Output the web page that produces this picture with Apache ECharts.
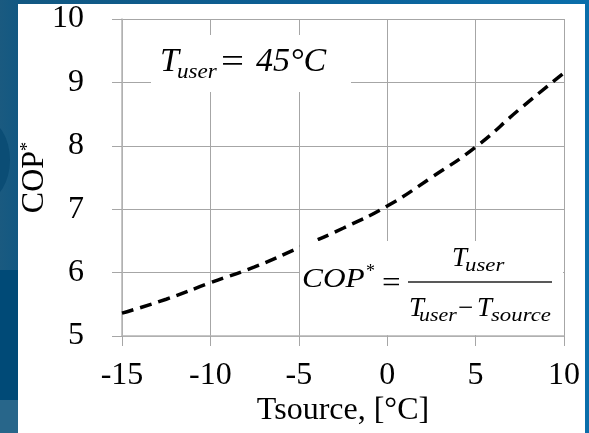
<!DOCTYPE html>
<html>
<head>
<meta charset="utf-8">
<script src="https://cdn.jsdelivr.net/npm/echarts@6/dist/echarts.min.js"></script>
<style>
html,body{margin:0;padding:0;}
body{width:589px;height:433px;position:relative;overflow:hidden;
background:linear-gradient(to right,#1a5a80 0px,#125882 20px,#0c5f95 300px,#0a6eaa 589px);}
#stripLow{position:absolute;left:0;top:270px;width:18px;height:130px;background:#004a77;}
#stripBot{position:absolute;left:0;top:400px;width:18px;height:33px;background:#28668a;}
#blob{position:absolute;left:-40px;top:120px;width:50px;height:80px;border-radius:50%;background:#0b4d75;}
#paper{position:absolute;left:18px;top:4px;width:567px;height:429px;background:#ffffff;}
#chart{position:absolute;left:0;top:0;width:589px;height:433px;}
</style>
</head>
<body>
<div id="blob"></div><div id="stripLow"></div><div id="stripBot"></div>
<div id="paper"></div>
<div id="chart"></div>
<script>
// Data
var tSource = [-15, -12.5, -10, -7.5, -5, -2.5, 0, 2.5, 5, 7.5, 10];
var copValues = [5.36, 5.58, 5.84, 6.09, 6.39, 6.70, 7.05, 7.50, 7.98, 8.58, 9.15];
var xTicks = {min: -15, max: 10, interval: 5};
var yTicks = {min: 5, max: 10, interval: 1};

var serif = 'Liberation Serif';
var points = tSource.map(function (t, i) { return [t, copValues[i]]; });

function txt(text, x, y, size, italic, sx) {
  return {
    type: 'text', x: x, y: y, z: 100,
    scaleX: sx || 1, scaleY: 1, originX: 0, originY: 0,
    style: {
      text: text,
      fontFamily: serif,
      fontSize: size,
      fontStyle: italic ? 'italic' : 'normal',
      fill: '#000',
      align: 'left',
      verticalAlign: 'middle'
    }
  };
}

var chart = echarts.init(document.getElementById('chart'), null, {renderer: 'canvas'});
chart.setOption({
  backgroundColor: 'transparent',
  animation: false,
  grid: {left: 122, right: 25, top: 19, bottom: 97, containLabel: false},
  xAxis: {
    type: 'value', min: xTicks.min, max: xTicks.max, interval: xTicks.interval,
    name: 'Tsource, [°C]', nameLocation: 'middle', nameGap: 59, nameMoveOverlap: false,
    nameTextStyle: {fontFamily: serif, fontSize: 32, color: '#000'},
    axisLine: {show: true, onZero: false, lineStyle: {color: '#b4b4b4', width: 1.5}},
    axisTick: {show: true, length: 10, lineStyle: {color: '#a6a6a6'}},
    axisLabel: {fontFamily: serif, fontSize: 32, color: '#000', margin: 24},
    splitLine: {show: true, lineStyle: {color: '#a6a6a6', width: 1}}
  },
  yAxis: {
    type: 'value', min: yTicks.min, max: yTicks.max, interval: yTicks.interval,
    name: 'COP{s|*}', nameLocation: 'middle', nameGap: 71, nameRotate: 90, nameMoveOverlap: false,
    nameTextStyle: {fontFamily: serif, fontSize: 32, color: '#000',
      rich: {s: {fontFamily: serif, fontSize: 18, color: '#000', verticalAlign: 'top'}}},
    axisLine: {show: true, onZero: false, lineStyle: {color: '#b4b4b4', width: 1.5}},
    axisTick: {show: true, length: 10, lineStyle: {color: '#a6a6a6'}},
    axisLabel: {fontFamily: serif, fontSize: 32, color: '#000', margin: 38},
    splitLine: {show: true, lineStyle: {color: '#a6a6a6', width: 1}}
  },
  series: [{
    type: 'line',
    data: points,
    smooth: true,
    symbol: 'none',
    lineStyle: {color: '#000', width: 3.5, type: [12, 7]},
    z: 2
  }],
  graphic: [
    // annotation boxes (white, covering grid lines)
    {type: 'rect', z: 90, shape: {x: 151, y: 35, width: 200, height: 57}, style: {fill: '#fff'}},
    {type: 'rect', z: 90, shape: {x: 300, y: 241, width: 263, height: 94}, style: {fill: '#fff'}},
    // T_user = 45°C
    txt('T', 160, 62, 34, true),
    txt('user', 177, 72, 22, true, 1.05),
    txt('=', 221, 63, 34, false, 1.2),
    txt('45°C', 256, 62, 34, true),
    // COP* = T_user / (T_user - T_source)
    txt('COP', 302, 280, 28, true, 1.12),
    txt('*', 366, 272, 18, false),
    txt('=', 382, 284, 30, false, 1.1),
    {type: 'line', z: 100, shape: {x1: 408, y1: 282, x2: 552, y2: 282}, style: {stroke: '#222', lineWidth: 1.5}},
    txt('T', 452, 259, 27, true),
    txt('user', 465, 266, 19, true, 1.2),
    txt('T', 409, 309, 27, true),
    txt('user', 419, 316, 19, true, 1.15),
    txt('\u2212', 458, 309, 27, false),
    txt('T', 477, 309, 27, true),
    txt('source', 491, 316, 19, true, 1.2)
  ]
});
</script>
</body>
</html>
